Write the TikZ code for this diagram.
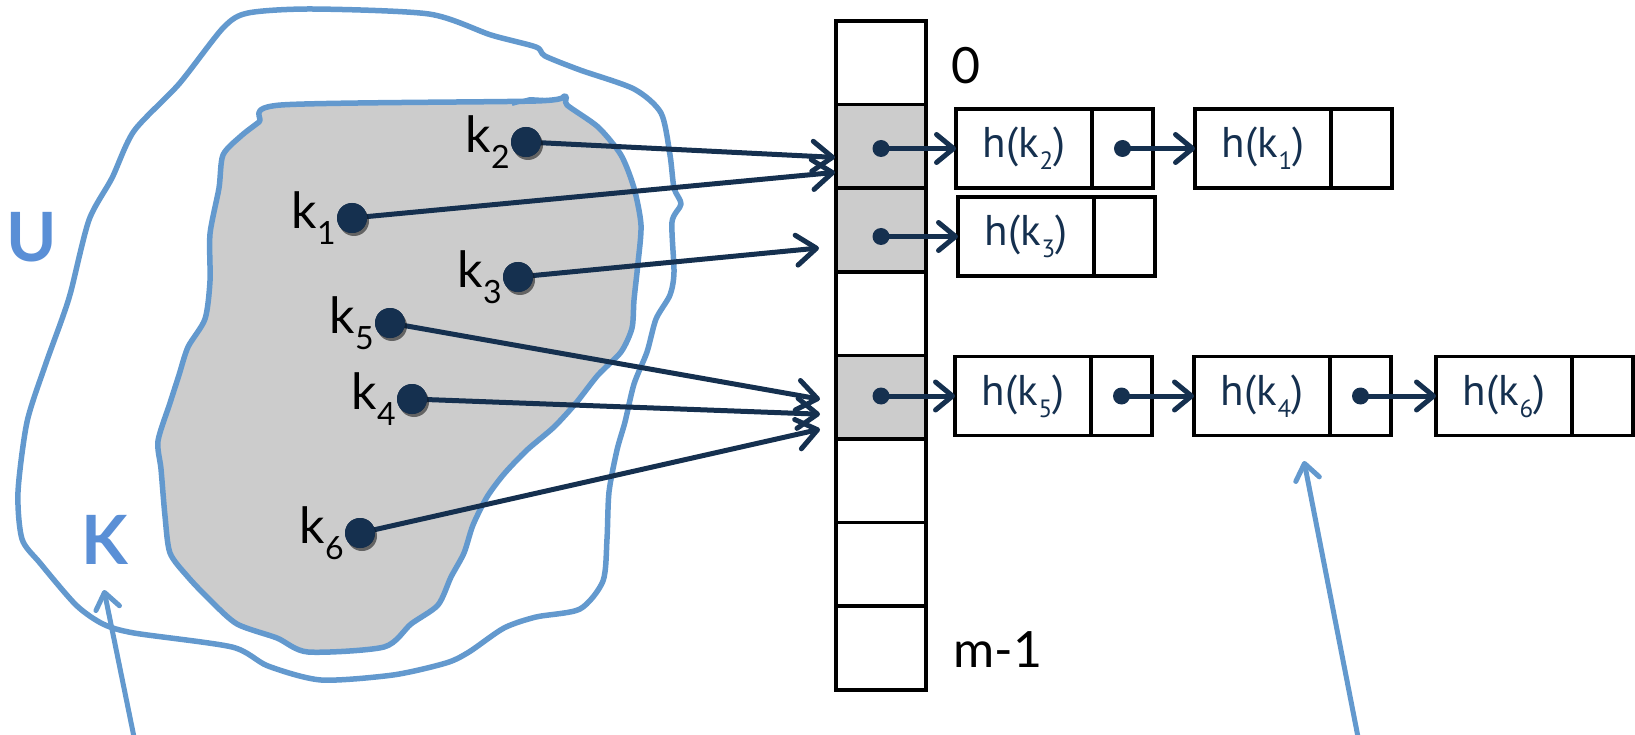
\documentclass[tikz,border=0pt]{standalone}
\usepackage{fontspec}
\setmainfont{PT Sans}
\newfontfamily\keyfont{Lato}
\usetikzlibrary{arrows.meta,calc,shadows}
\definecolor{navy}{HTML}{15304F}
\definecolor{lblue}{HTML}{6399CE}
\definecolor{tblue}{HTML}{5A8FD6}
\definecolor{cellgray}{HTML}{CCCCCC}
\newcommand{\hk}[1]{h(k\kern0.5pt\raisebox{-0.28em}{\fontsize{25}{25}\selectfont #1})}
\newcommand{\kk}[1]{k\kern0.5pt\raisebox{-0.32em}{\fontsize{32}{32}\selectfont #1}}
\begin{document}
\begin{tikzpicture}[x=1pt,y=-1pt,
  cell/.style={draw=black, line width=3.5pt, minimum width=90pt, minimum height=83.6pt, inner sep=0pt, outer sep=0pt},
  keybox/.style={draw=black, line width=3.5pt, minimum width=136pt, minimum height=79pt, inner sep=0pt, outer sep=0pt, text=navy, font=\fontsize{43}{46}\selectfont},
  ptrbox/.style={draw=black, line width=3.5pt, minimum width=61pt, minimum height=79pt, inner sep=0pt, outer sep=0pt, anchor=west},
  smalldot/.style={circle, fill=navy, minimum size=17pt, inner sep=0pt},
  keydot/.style={circle, fill=navy, minimum size=30pt, inner sep=0pt,
    drop shadow={shadow xshift=2pt, shadow yshift=-3pt, opacity=0.3, fill=black}},
  keylab/.style={font=\keyfont\fontsize{50}{54}\selectfont, text=black, inner sep=1pt},
  ptrarrow/.style={draw=navy, line width=5pt, -{Straight Barb[length=17pt, width=28pt, round]}},
  keyarrow/.style={draw=navy, line width=5pt, -{Straight Barb[length=20pt, width=30pt, round]}},
  blarrow/.style={draw=lblue, line width=5pt, -{Straight Barb[length=16pt, width=24pt, round]}},
  blob/.style={draw=lblue, line width=5.5pt, line join=round},
  setlab/.style={font=\keyfont\bfseries\fontsize{68}{72}\selectfont, text=tblue},
  idxlab/.style={font=\keyfont\fontsize{50}{54}\selectfont, text=black}
]
\useasboundingbox (0,0) rectangle (1635,735);

% outer set U
\draw[blob] plot[smooth cycle, tension=0.45] coordinates {
 (248,13) (312,9) (429,14) (491,35) (536,47) (545,56) (580,70) (634,89) (661,113)
 (670,155) (674,188) (681,204) (672,222) (674,272) (670,295) (656,319) (647,352)
 (634,384) (625,422) (617,450) (609,492) (607,539) (603,581) (580,609) (536,617)
 (504,628) (469,652) (446,663) (393,675) (321,680) (268,666) (232,647) (134,633)
 (103,624) (76,605) (40,563) (22,539) (18,492) (27,422) (45,366) (62,319) (71,291)
 (89,220) (112,178) (134,131) (179,84) (223,28)};

% inner set K
\draw[blob, fill=cellgray] plot[smooth cycle, tension=0.45] coordinates {
 (281,105) (536,101) (565,96) (567,105) (598,127) (621,155) (634,188) (641,225)
 (638,263) (634,300) (632,328) (621,352) (598,375) (576,403) (554,427) (527,450)
 (504,474) (487,497) (473,525) (464,553) (451,577) (438,605) (411,624) (384,647)
 (308,652) (277,638) (237,624) (210,600) (188,577) (170,553) (165,516) (161,469)
 (158,441) (170,403) (179,375) (188,347) (205,319) (210,281) (210,234) (219,188)
 (223,155) (241,136) (259,122)};
\draw[blob, line width=4pt] (512,104) -- (530,99) -- (547,100);

\node[setlab] (U) at (32,237) {U};
\node[setlab] (K) at (105,540) {K};

% hash table
\foreach \i/\f in {1/white,2/cellgray,3/cellgray,4/white,5/cellgray,6/white,7/white,8/white}{
  \node[cell, fill=\f] (c\i) at (881,{21+83.6*(\i-0.5)}) {};
}
\node[idxlab] (zero) at (966,66) {0};
\node[idxlab] (mlast) at (998,650) {m-1};

% chains
\node[keybox] (a1) at (1024,148.5) {\hk{2}};
\node[ptrbox] (p1) at (a1.east) {};
\node[keybox] (a2) at (1263,148.5) {\hk{1}};
\node[ptrbox] (p2) at (a2.east) {};

\node[keybox] (b1) at (1026,236.5) {\hk{3}};
\node[ptrbox] (q1) at (b1.east) {};

\node[keybox] (e1) at (1023,396) {\hk{5}};
\node[ptrbox] (r1) at (e1.east) {};
\node[keybox] (e2) at (1262,396) {\hk{4}};
\node[ptrbox] (r2) at (e2.east) {};
\node[keybox] (e3) at (1504,396) {\hk{6}};
\node[ptrbox] (r3) at (e3.east) {};

% pointer dots and arrows
\node[smalldot] (dc2) at (c2.center |- a1.center) {};
\node[smalldot] (dp1) at (p1.center) {};
\node[smalldot] (dc3) at (c3.center |- b1.center) {};
\node[smalldot] (dc5) at (c5.center |- e1.center) {};
\node[smalldot] (dr1) at (r1.center) {};
\node[smalldot] (dr2) at (r2.center) {};
\draw[ptrarrow] (dc2.center) -- (a1.west);
\draw[ptrarrow] (dp1.center) -- (a2.west);
\draw[ptrarrow] (dc3.center) -- (b1.west);
\draw[ptrarrow] (dc5.center) -- (e1.west);
\draw[ptrarrow] (dr1.center) -- (e2.west);
\draw[ptrarrow] (dr2.center) -- (e3.west);

% keys
\node[keydot, label={[keylab]left:\kk{2}}] (k2) at (526,142) {};
\node[keydot, label={[keylab]left:\kk{1}}] (k1) at (352,218) {};
\node[keydot, label={[keylab]left:\kk{3}}] (k3) at (518,277) {};
\node[keydot, label={[keylab]left:\kk{5}}] (k5) at (390,323) {};
\node[keydot, label={[keylab]left:\kk{4}}] (k4) at (412,399) {};
\node[keydot, label={[keylab]left:\kk{6}}] (k6) at (360,533) {};

\coordinate (t2) at ($(c2.west)+(-1,11)$);
\coordinate (t1) at ($(c2.west)+(-1,26)$);
\coordinate (t3) at ($(c3.west)+(-17,18)$);
\coordinate (t5) at ($(c5.west)+(-16,2)$);
\coordinate (t4) at ($(c5.west)+(-16,17)$);
\coordinate (t6) at ($(c5.west)+(-16,32)$);
\draw[keyarrow] (k2.center) -- (t2);
\draw[keyarrow] (k1.center) -- (t1);
\draw[keyarrow] (k3.center) -- (t3);
\draw[keyarrow] (k5.center) -- (t5);
\draw[keyarrow] (k4.center) -- (t4);
\draw[keyarrow] (k6.center) -- (t6);
\node[keydot] at (k2) {};
\node[keydot] at (k1) {};
\node[keydot] at (k3) {};
\node[keydot] at (k5) {};
\node[keydot] at (k4) {};
\node[keydot] at (k6) {};

% blue pointers
\coordinate (ka0) at (134,737);
\coordinate (ka1) at (104,590);
\draw[blarrow] (ka0) -- (ka1);
\coordinate (la0) at (1358,737);
\coordinate (la1) at (1304,461);
\draw[blarrow] (la0) -- (la1);
\end{tikzpicture}
\end{document}
